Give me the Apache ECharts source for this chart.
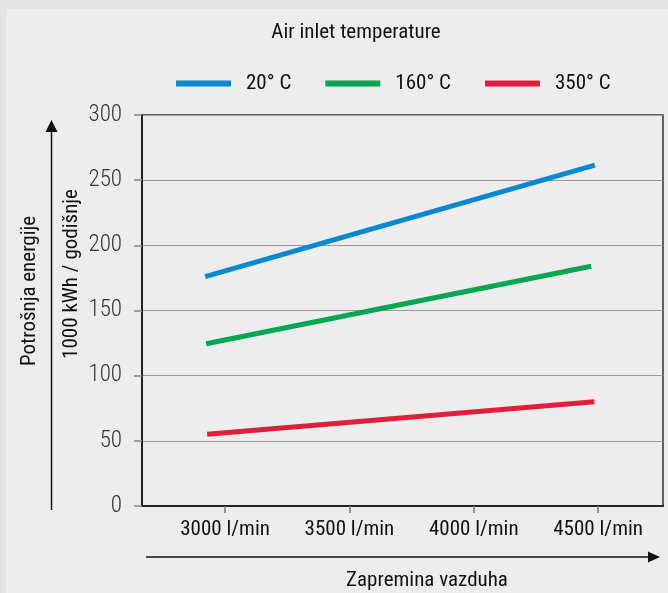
<!DOCTYPE html>
<html><head><meta charset="utf-8">
<script src="https://cdn.jsdelivr.net/npm/echarts@6/dist/echarts.min.js"></script>
<style>html,body{margin:0;padding:0;background:#e2e3e5}#c{width:668px;height:593px}</style>
</head><body><div id="c"></div>
<script>
const seriesNames = ['20° C', '160° C', '350° C'];
const seriesColors = ['#0b88d2', '#00a652', '#e01f3a'];
const blue20 = [[2920, 176], [4487, 261.5]];
const green160 = [[2924, 124.5], [4472, 184]];
const red350 = [[2928, 55], [4485, 80]];
const xTicks = [3000, 3500, 4000, 4500];
const yTicks = [0, 50, 100, 150, 200, 250, 300];
const titleText = 'Air inlet temperature';
const yTitle1 = 'Potrošnja energije';
const yTitle2 = '1000 kWh / godišnje';
const xTitle = 'Zapremina vazduha';

const cond = '"Roboto Condensed","Liberation Sans",sans-serif';
const chart = echarts.init(document.getElementById('c'));
const data = [blue20, green160, red350];
chart.setOption({
  backgroundColor: '#e2e3e5',
  animation: false,
  legend: {
    top: 68, left: 171, icon: 'rect', itemWidth: 55, itemHeight: 6, itemGap: 34,
    textStyle: {fontFamily: cond, fontSize: 21, color: '#111', padding: [0, 0, 0, 10], width: 56},
    data: seriesNames
  },
  grid: {left: 142, right: 5, top: 115, bottom: 87, show: true, borderColor: '#333', borderWidth: 1.5, backgroundColor: 'transparent'},
  xAxis: {
    type: 'value', min: 2666, max: 4761,
    axisLine: {show: true, lineStyle: {color: '#222', width: 2}},
    axisTick: {show: true, length: 7, lineStyle: {color: '#777', width: 1.5}, customValues: xTicks},
    axisLabel: {customValues: xTicks, margin: 13, fontFamily: cond, fontSize: 21, color: '#111', formatter: v => v + ' l/min'},
    splitLine: {show: false}
  },
  yAxis: {
    type: 'value', min: 0, max: 300, interval: 50,
    axisLine: {show: true, lineStyle: {color: '#222', width: 2}},
    axisTick: {show: true, length: 8, lineStyle: {color: '#888', width: 1.5}},
    axisLabel: {margin: 20, fontFamily: cond, fontWeight: 300, fontSize: 23, color: '#333'},
    splitLine: {show: true, lineStyle: {color: '#9a9a9a', width: 1.2}}
  },
  series: seriesNames.map((n, i) => ({
    name: n, type: 'line', data: data[i], symbol: 'none', color: seriesColors[i],
    lineStyle: {width: 5, color: seriesColors[i], cap: 'butt'}
  })),
  graphic: [
    {type: 'rect', z: -100, shape: {x: 6, y: 9, width: 670, height: 590}, style: {fill: '#ededed'}, silent: true},
    {type: 'text', x: 356, y: 33, style: {text: titleText, fontFamily: cond, fontSize: 21, fill: '#111', align: 'center', verticalAlign: 'middle'}},
    {type: 'line', shape: {x1: 51.5, y1: 510, x2: 51.5, y2: 130}, style: {stroke: '#111', lineWidth: 1.5}},
    {type: 'polygon', shape: {points: [[51.5, 120], [45.5, 132], [57.5, 132]]}, style: {fill: '#111'}},
    {type: 'line', shape: {x1: 146, y1: 557, x2: 650, y2: 557}, style: {stroke: '#111', lineWidth: 1.5}},
    {type: 'polygon', shape: {points: [[660, 557], [648, 551.5], [648, 562.5]]}, style: {fill: '#111'}},
    {type: 'text', x: 30, y: 291, rotation: Math.PI / 2, style: {text: yTitle1, fontFamily: cond, fontSize: 21, fill: '#111', align: 'center', verticalAlign: 'middle'}},
    {type: 'text', x: 72, y: 274, rotation: Math.PI / 2, style: {text: yTitle2, fontFamily: cond, fontSize: 21, fill: '#111', align: 'center', verticalAlign: 'middle'}},
    {type: 'text', x: 427, y: 581, style: {text: xTitle, fontFamily: cond, fontSize: 21, fill: '#111', align: 'center', verticalAlign: 'middle'}}
  ]
});
</script></body></html>
